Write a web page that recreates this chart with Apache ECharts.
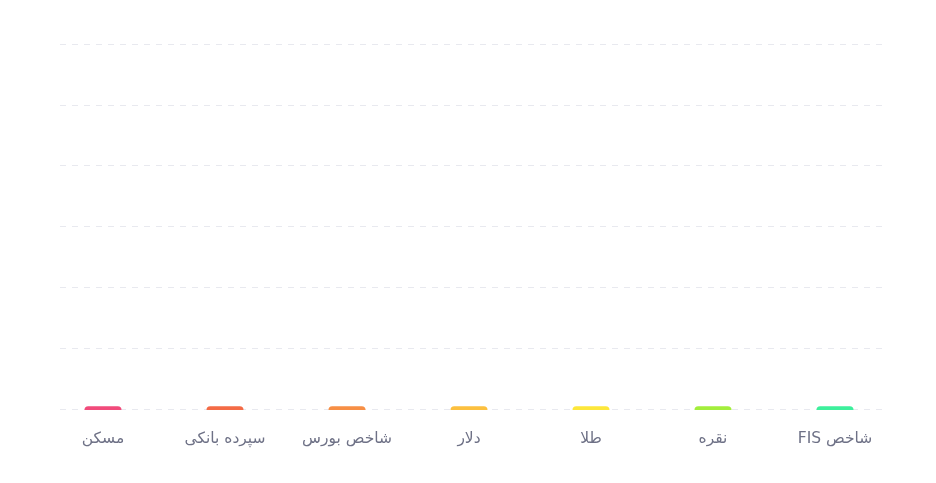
<!DOCTYPE html>
<html dir="rtl">
<head>
<meta charset="utf-8">
<script src="https://cdn.jsdelivr.net/npm/echarts@6/dist/echarts.min.js"></script>
<style>html,body{margin:0;padding:0;background:#fff;}#c{width:936px;height:483px;}</style>
</head>
<body>
<div id="c"></div>
<script>
var categories = ['شاخص FIS', 'نقره', 'طلا', 'دلار', 'شاخص بورس', 'سپرده بانکی', 'مسکن'];
var values = [0.06, 0.06, 0.06, 0.06, 0.06, 0.06, 0.06];
var barColors = ['#3df09c', '#a3ee3c', '#fde73b', '#fcc03f', '#f78f45', '#f46b46', '#f14b7b'];
var yTicks = [0, 1, 2, 3, 4, 5, 6];

var chart = echarts.init(document.getElementById('c'), null, {renderer: 'canvas'});
chart.setOption({
  animation: false,
  grid: [
    {left: 42, right: 40, top: 44, bottom: 73},
    {left: 60, right: 52, top: 44, bottom: 74}
  ],
  xAxis: [
    {
      type: 'category', gridIndex: 0, data: categories, inverse: true,
      axisLine: {show: false}, axisTick: {show: false},
      axisLabel: {color: '#6e7186', fontSize: 15.5, margin: 21, fontFamily: 'DejaVu Sans'}
    },
    {type: 'value', gridIndex: 1, show: false, min: 0, max: 1}
  ],
  yAxis: [
    {type: 'value', gridIndex: 0, min: yTicks[0], max: yTicks[yTicks.length - 1], interval: 1, show: false, splitLine: {show: false}},
    {
      type: 'value', gridIndex: 1, min: yTicks[0], max: yTicks[yTicks.length - 1], interval: 1,
      axisLine: {show: false}, axisTick: {show: false}, axisLabel: {show: false},
      splitLine: {show: true, lineStyle: {color: '#e8e9ef', type: [6, 6], width: 1}}
    }
  ],
  series: [{
    type: 'bar', xAxisIndex: 0, yAxisIndex: 0,
    barWidth: 37,
    z: 3,
    data: values.map(function (v, i) {
      return {value: v, itemStyle: {color: barColors[i], borderRadius: [4, 4, 0, 0]}};
    })
  }]
});
</script>
</body>
</html>
